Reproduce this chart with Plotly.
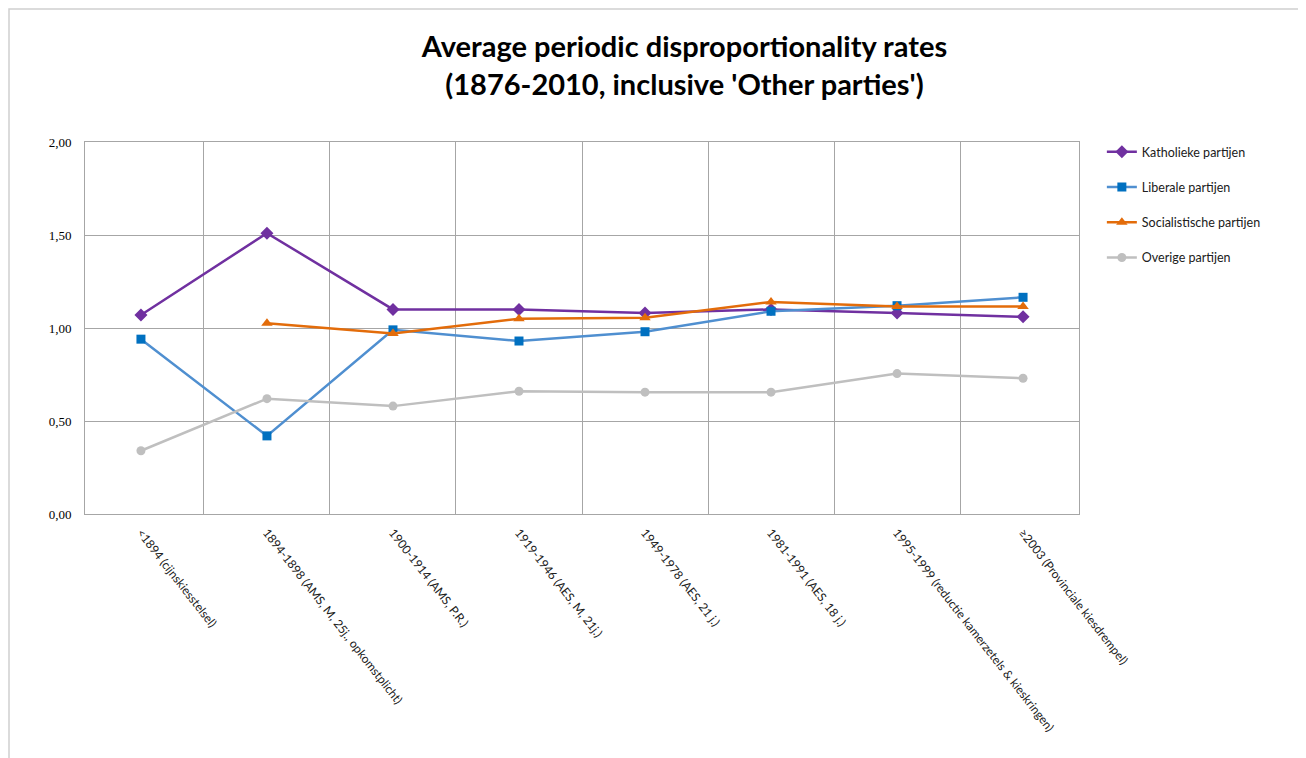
import plotly.graph_objects as go

periods = ['<1894 (cijnskiesstelsel)',
           '1894-1898 (AMS, M, 25j., opkomstplicht)',
           '1900-1914 (AMS, P.R.)',
           '1919-1946 (AES, M, 21j.)',
           '1949-1978 (AES, 21 j.)',
           '1981-1991 (AES, 18 j.)',
           '1995-1999 (reductie kamerzetels & kieskringen)',
           '≥2003 (Provinciale kiesdrempel)']
katholiek = [1.07, 1.51, 1.10, 1.10, 1.08, 1.10, 1.08, 1.06]
liberaal = [0.94, 0.42, 0.99, 0.93, 0.98, 1.09, 1.12, 1.165]
socialist = [None, 1.025, 0.97, 1.05, 1.055, 1.14, 1.115, 1.115]
overig = [0.34, 0.62, 0.58, 0.66, 0.655, 0.655, 0.755, 0.73]

fig = go.Figure()
series = [
    ('Katholieke partijen', katholiek, '#7030A0', '#7030A0', 'diamond', 10),
    ('Liberale partijen', liberaal, '#4F8FD0', '#0070C0', 'square', 9),
    ('Socialistische partijen', socialist, '#E36C0A', '#E36C0A', 'triangle-up', 10),
    ('Overige partijen', overig, '#BFBFBF', '#BFBFBF', 'circle', 9),
]
for name, vals, lc, mc, sym, sz in series:
    fig.add_trace(go.Scatter(
        x=periods, y=vals, name=name, legendgroup=name,
        mode='lines+markers',
        line=dict(color=lc, width=2.5),
        marker=dict(symbol=sym, size=sz, color=mc),
    ))

# the page puts the figure 8px in from the corner, so margins are shifted by that
fig.update_layout(
    width=1306, height=758,
    paper_bgcolor='white', plot_bgcolor='white',
    margin=dict(l=77, r=235, t=134, b=252),
    separators=',.',
    font=dict(family='Lato, sans-serif', size=12, color='#000000'),
    title=dict(text="<b>Average periodic disproportionality rates<br>(1876-2010, inclusive 'Other parties')</b>",
               x=0.518, xref='container', xanchor='center',
               y=0.935, yanchor='middle',
               font=dict(family='Lato, sans-serif', size=29, color='#000000')),
    showlegend=True,
    legend=dict(x=1.023, y=1.013, xanchor='left', yanchor='top',
                tracegroupgap=16, font=dict(size=12.5, color='#202020'),
                bgcolor='rgba(0,0,0,0)'),
)
fig.update_xaxes(type='category', tickson='boundaries', showgrid=True,
                 gridcolor='#A6A6A6', gridwidth=1, ticks='', tickangle=52,
                 ticklabelstandoff=6,
                 showline=True, linecolor='#A6A6A6', mirror=True,
                 tickfont=dict(family='Lato, sans-serif', size=12, color='#202020'))
fig.update_yaxes(range=[0, 2], dtick=0.5, tickformat='.2f', showgrid=True,
                 gridcolor='#A6A6A6', gridwidth=1, zeroline=False,
                 showline=True, linecolor='#A6A6A6', mirror=True, ticks='',
                 ticklabelstandoff=10,
                 tickfont=dict(family='Liberation Serif, serif', size=13, color='#000000'))

# chart-area border like the original spreadsheet export (kept inside the figure)
fig.add_shape(type='rect', xref='paper', yref='paper',
              x0=(9 - 85) / 994, x1=(1303 - 85) / 994,
              y0=(514 - 762) / 372, y1=(514 - 9) / 372,
              line=dict(color='#D0D0D0', width=1.5), layer='below')

fig.write_html("out.html")
